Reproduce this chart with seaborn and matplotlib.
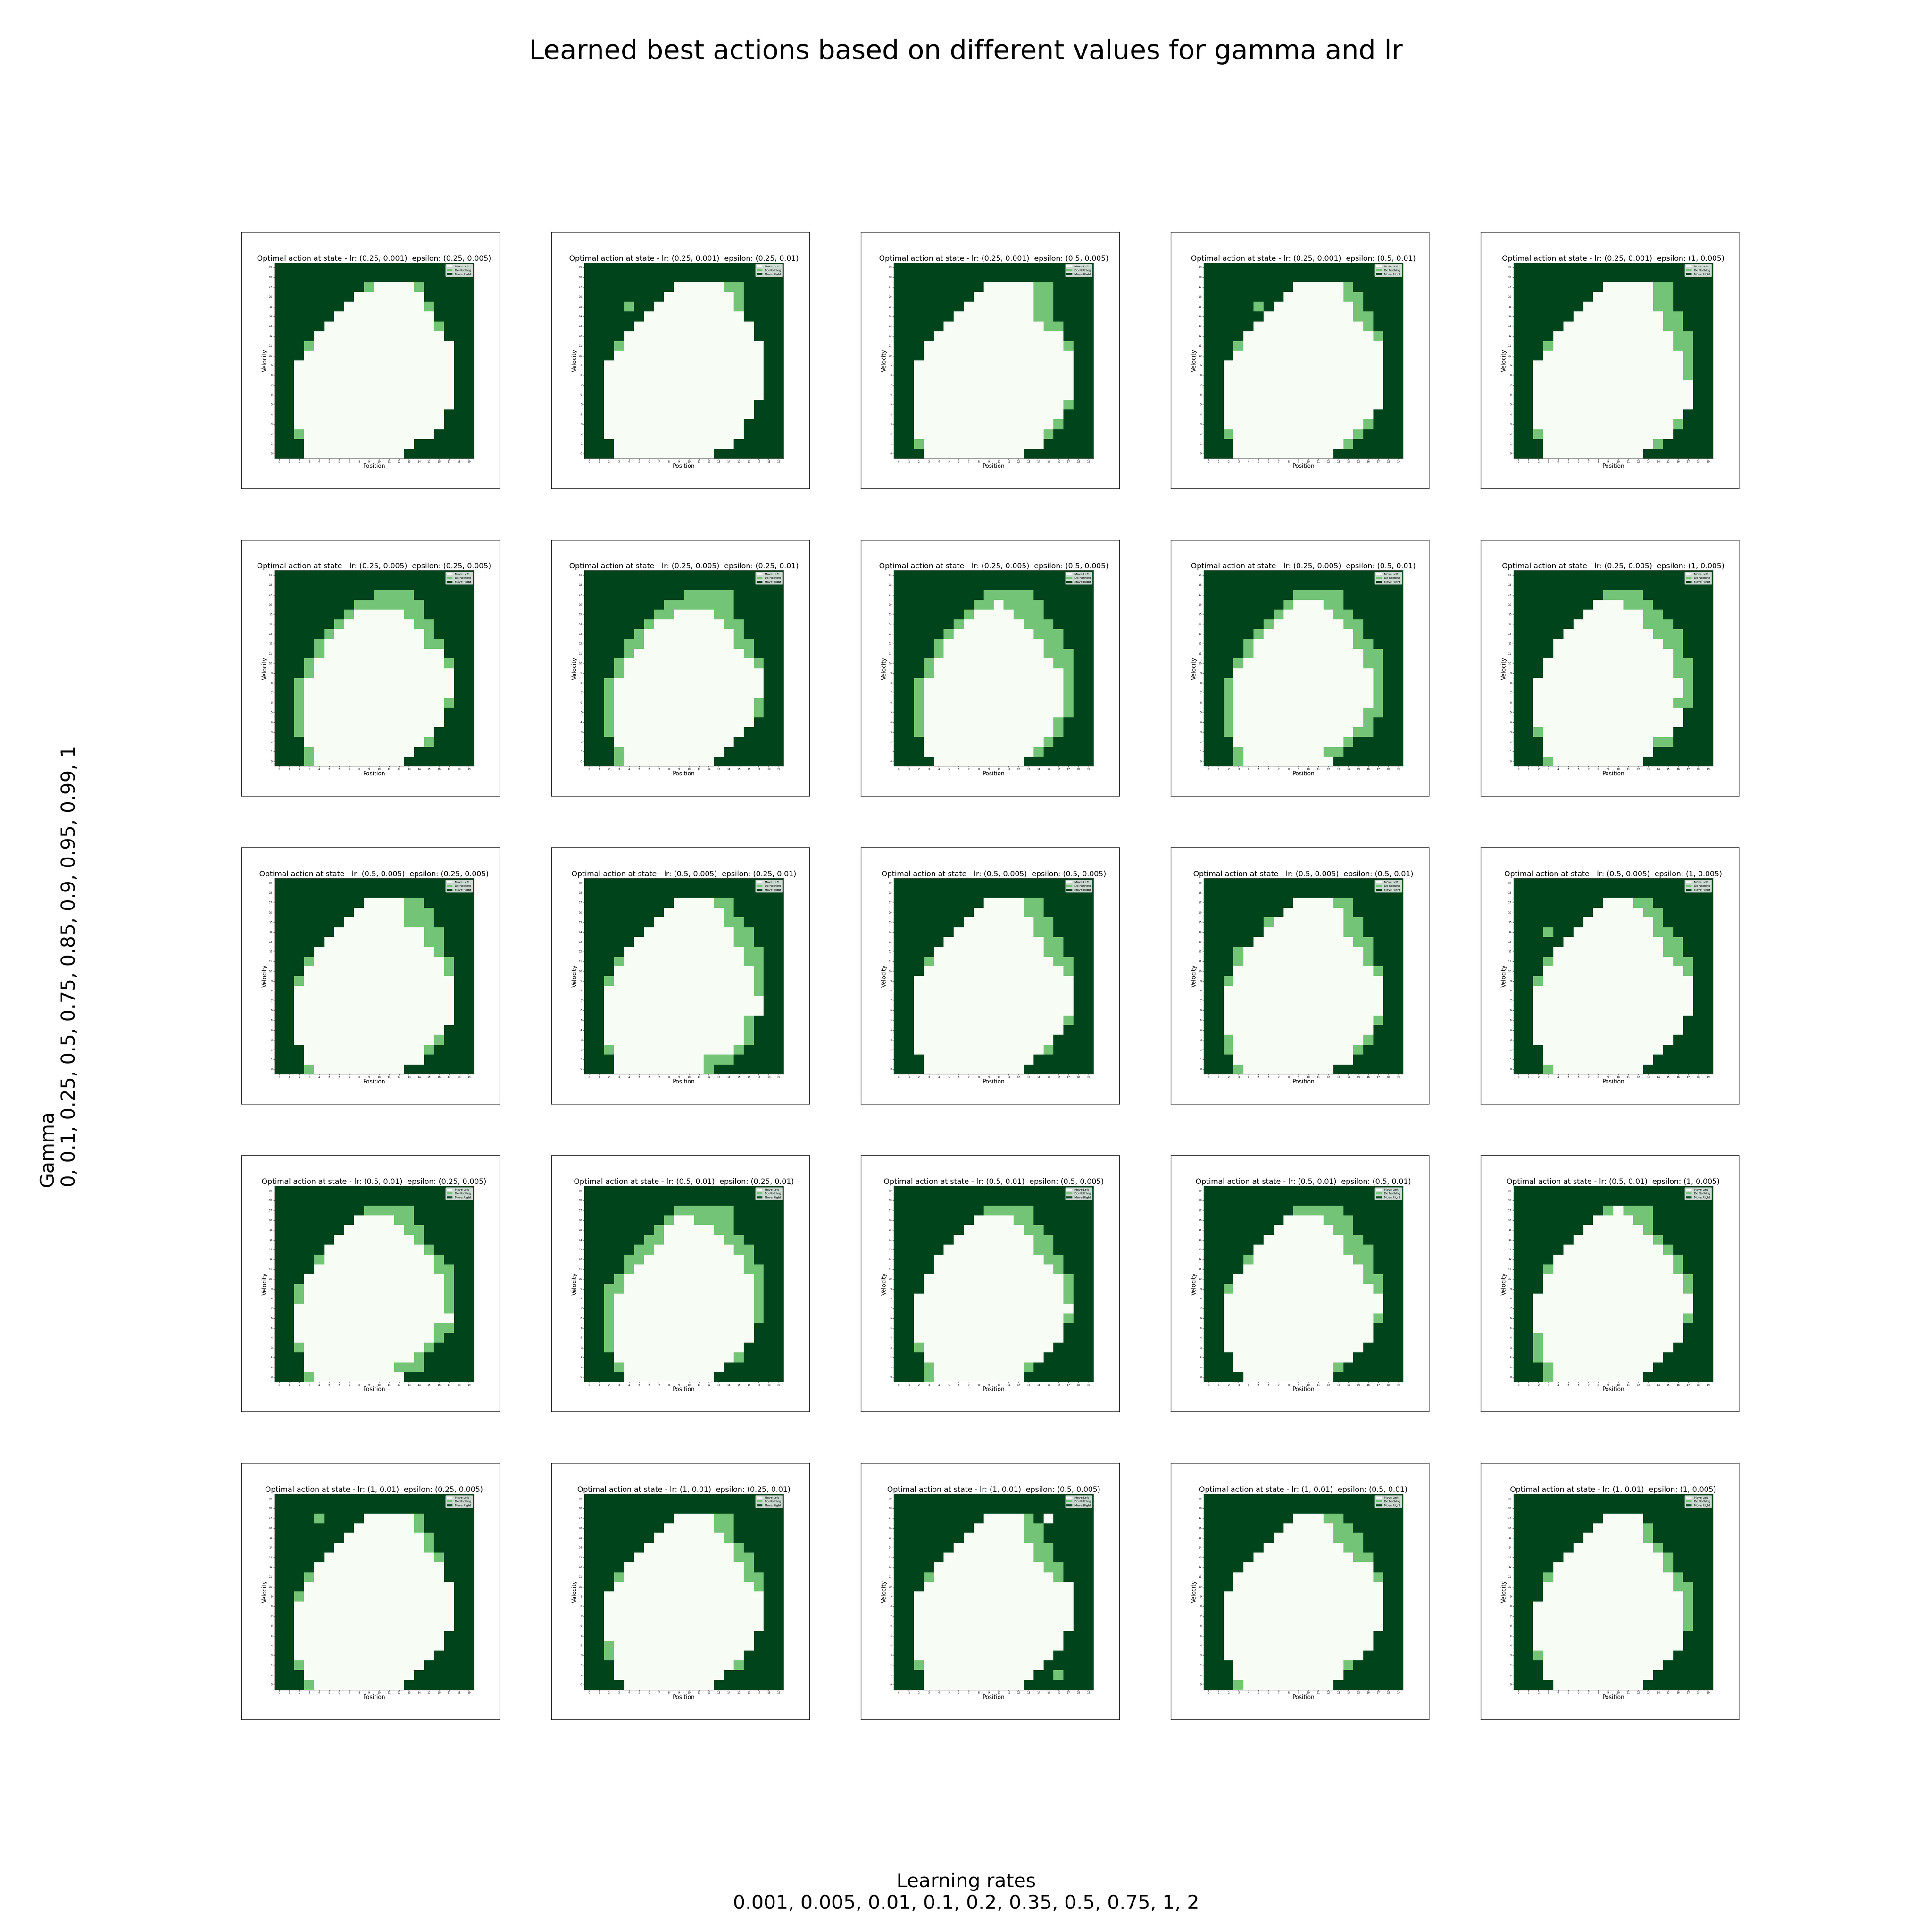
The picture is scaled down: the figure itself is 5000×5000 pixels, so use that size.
import numpy as np
import matplotlib
matplotlib.use("Agg")
import matplotlib.pyplot as plt
from matplotlib.patches import Patch
import seaborn as sns

# ---------------- data ----------------
learning_rate_pairs = ["(0.25, 0.001)", "(0.25, 0.005)", "(0.5, 0.005)", "(0.5, 0.01)", "(1, 0.01)"]
epsilon_pairs = ["(0.25, 0.005)", "(0.25, 0.01)", "(0.5, 0.005)", "(0.5, 0.01)", "(1, 0.005)"]
action_names = ["Move Left", "Do Nothing", "Move Right"]
position_ticks = list(range(20))
velocity_ticks = list(range(19, -1, -1))
gamma_values = "0, 0.1, 0.25, 0.5, 0.75, 0.85, 0.9, 0.95, 0.99, 1"
lr_values = "0.001, 0.005, 0.01, 0.1, 0.2, 0.35, 0.5, 0.75, 1, 2"

# '.' = Move Left (0), 'o' = Do Nothing (1), '#' = Move Right (2)
# each list: velocity rows 19 (top) -> 0 (bottom), positions 0..19
policy_r1c1 = [
    "####################", "####################", "#########o....o#####", "########.......#####",
    "#######........o####", "######..........####", "#####...........o###", "####.............###",
    "###o..............##", "###...............##", "##................##", "##................##",
    "##................##", "##................##", "##................##", "##...............###",
    "##...............###", "##o.............####", "###...........######", "###..........#######",
]
policy_r1c2 = [
    "####################", "####################", "#########.....oo####", "########.......o####",
    "####o##........o####", "######..........####", "#####............###", "####.............###",
    "###o..............##", "###...............##", "##................##", "##................##",
    "##................##", "##................##", "##...............###", "##...............###",
    "##..............####", "##..............####", "###............#####", "###..........#######",
]
policy_r1c3 = [
    "####################", "####################", "#########.....oo####", "########......oo####",
    "#######.......oo####", "######........oo####", "#####..........oo###", "####.............###",
    "###..............o##", "###...............##", "##................##", "##................##",
    "##................##", "##................##", "##...............o##", "##...............###",
    "##..............o###", "##.............o####", "##o............#####", "###..........#######",
]
policy_r1c4 = [
    "####################", "####################", "#########.....o#####", "########......oo####",
    "#####o#........o####", "######.........oo###", "#####...........o###", "####.............o##",
    "###o..............##", "###...............##", "##................##", "##................##",
    "##................##", "##................##", "##................##", "##...............###",
    "##..............o###", "##o............o####", "###...........o#####", "###..........#######",
]
policy_r1c5 = [
    "####################", "####################", "#########.....oo####", "########......oo####",
    "#######.......oo####", "######.........oo###", "#####..........oo###", "####............oo##",
    "###o............oo##", "###..............o##", "##...............o##", "##...............o##",
    "##................##", "##................##", "##................##", "##...............###",
    "##..............o###", "##o.............####", "###...........o#####", "###..........#######",
]
policy_r2c1 = [
    "####################", "####################", "##########oooo######", "########ooooooo#####",
    "#######o.....oo#####", "######o.......oo####", "#####o.........o####", "####o..........oo###",
    "####o............###", "###o.............o##", "###o..............##", "##o...............##",
    "##o...............##", "##o..............o##", "##o..............###", "##o..............###",
    "##o.............####", "###............o####", "###o..........######", "###o.........#######",
]
policy_r2c2 = [
    "####################", "####################", "##########ooooo#####", "########ooooooo#####",
    "#######oo....oo#####", "######o.......oo####", "#####o.........o####", "####oo.........oo###",
    "####o...........o###", "###o.............o##", "###o..............##", "##o...............##",
    "##o...............##", "##o..............o##", "##o..............o##", "##o..............###",
    "##o.............####", "###............#####", "###o..........######", "###o.........#######",
]
policy_r2c3 = [
    "####################", "####################", "#########ooooo######", "########oo.oooo#####",
    "#######o....ooo#####", "######o......ooo####", "#####o........ooo###", "####o..........oo###",
    "####o..........ooo##", "###o............oo##", "###o.............o##", "##o..............o##",
    "##o..............o##", "##o..............o##", "##o..............o##", "##o.............o###",
    "##o.............o###", "###............o####", "###...........o#####", "####.........#######",
]
policy_r2c4 = [
    "####################", "####################", "#########ooooo######", "########o...oo######",
    "#######o.....oo#####", "######o.......oo####", "#####o.........o####", "####o..........oo###",
    "####o...........oo##", "###o............oo##", "###..............o##", "##o..............o##",
    "##o..............o##", "##o..............o##", "##o.............oo##", "##o.............o###",
    "##o............oo###", "###...........o#####", "###o........oo######", "###o.........#######",
]
policy_r2c5 = [
    "####################", "####################", "#########oooo#######", "########...ooo######",
    "#######......oo#####", "######.......ooo####", "#####.........ooo###", "####...........oo###",
    "####............o###", "###.............oo##", "###.............oo##", "##...............o##",
    "##...............o##", "##..............oo##", "##...............###", "##...............###",
    "##o.............####", "###...........oo####", "###...........######", "###o.........#######",
]
policy_r3c1 = [
    "####################", "####################", "#########....oo#####", "########.....ooo####",
    "#######......ooo####", "######.........oo###", "#####..........oo###", "####............o###",
    "###o.............o##", "###..............o##", "##o...............##", "##................##",
    "##................##", "##................##", "##................##", "##...............###",
    "##..............o###", "###............o####", "###............#####", "###o.........#######",
]
policy_r3c2 = [
    "####################", "####################", "#########....oo#####", "########......o#####",
    "#######.......oo####", "######.........oo###", "#####..........oo###", "####............oo##",
    "###o............oo##", "###..............o##", "##o..............o##", "##...............o##",
    "##................##", "##................##", "##..............o###", "##..............o###",
    "##..............o###", "##o............o####", "###.........ooo#####", "###.........o#######",
]
policy_r3c3 = [
    "####################", "####################", "#########....oo#####", "########.....oo#####",
    "#######.......oo####", "######........oo####", "#####..........oo###", "####...........oo###",
    "###o............oo##", "###..............o##", "##................##", "##................##",
    "##................##", "##................##", "##...............o##", "##...............###",
    "##..............####", "##.............o####", "###...........######", "###..........#######",
]
policy_r3c4 = [
    "####################", "####################", "#########....oo#####", "########......o#####",
    "######o.......oo####", "######........oo####", "#####..........oo###", "###o............o###",
    "###o............o###", "###..............o##", "##o...............##", "##................##",
    "##................##", "##................##", "##...............o##", "##...............###",
    "##o.............o###", "##o............o####", "###............#####", "###o.........#######",
]
policy_r3c5 = [
    "####################", "####################", "#########...oo######", "########.....oo#####",
    "#######.......o#####", "###o##........oo####", "#####..........oo###", "####...........oo###",
    "###o............oo##", "###..............o##", "##o...............##", "##................##",
    "##................##", "##................##", "##...............###", "##...............###",
    "##..............####", "###............#####", "###...........######", "###o.........#######",
]
policy_r4c1 = [
    "####################", "####################", "#########ooooo######", "########....oo######",
    "#######......oo#####", "######........o#####", "#####..........o####", "####o...........o###",
    "####............oo##", "###..............o##", "##o..............o##", "##o..............o##",
    "##...............o##", "##................##", "##..............oo##", "##..............o###",
    "##o............o####", "###...........o#####", "###.........ooo#####", "###o.........#######",
]
policy_r4c2 = [
    "####################", "####################", "#########oooooo#####", "########o..oooo#####",
    "#######o.....oo#####", "######oo......oo####", "#####oo........oo###", "####oo..........o###",
    "####o...........oo##", "###o.............o##", "##oo.............o##", "##o..............o##",
    "##o..............o##", "##o..............o##", "##o..............###", "##o..............###",
    "##o.............####", "###............o####", "###o..........######", "####.........#######",
]
policy_r4c3 = [
    "####################", "####################", "#########ooooo######", "########....oo######",
    "#######......oo#####", "######........oo####", "#####.........oo####", "####...........oo###",
    "####............o###", "###..............o##", "###..............o##", "##...............o##",
    "##................##", "##...............o##", "##...............###", "##...............###",
    "##o.............####", "###............#####", "###o.........o######", "###o.........#######",
]
policy_r4c4 = [
    "####################", "####################", "#########ooooo######", "########....ooo#####",
    "#######......oo#####", "######........oo####", "#####.........ooo###", "####o..........oo###",
    "####............o###", "###.............oo##", "##o..............o##", "##................##",
    "##................##", "##...............o##", "##...............###", "##...............###",
    "##..............####", "###............#####", "###..........o######", "####.........#######",
]
policy_r4c5 = [
    "####################", "####################", "#########o.ooo######", "########....oo######",
    "#######......o######", "######........o#####", "#####..........o####", "####............o###",
    "###o............o###", "###..............o##", "###..............o##", "##................##",
    "##................##", "##...............o##", "##...............###", "##o..............###",
    "##o.............####", "##o............#####", "###o..........######", "###o.........#######",
]
policy_r5c1 = [
    "####################", "####################", "####o####.....o#####", "########......o#####",
    "#######........o####", "######.........o####", "#####...........o###", "####.............###",
    "###o.............###", "###...............##", "##o...............##", "##................##",
    "##................##", "##................##", "##...............###", "##...............###",
    "##..............####", "##o............#####", "###...........######", "###o.........#######",
]
policy_r5c2 = [
    "####################", "####################", "#########....oo#####", "########.....oo#####",
    "#######.......o#####", "######.........o####", "#####..........oo###", "####............o###",
    "###o............oo##", "###..............o##", "##................##", "##................##",
    "##................##", "##................##", "##...............###", "##o..............###",
    "##o.............####", "###............o####", "###...........######", "####.........#######",
]
policy_r5c3 = [
    "####################", "####################", "#########....o#.####", "########.....oo#####",
    "#######......oo#####", "######........oo####", "#####.........oo####", "####...........oo###",
    "###o............o###", "###...............##", "##................##", "##................##",
    "##................##", "##................##", "##...............###", "##...............###",
    "##..............####", "##o............#####", "###...........##o###", "###..........#######",
]
policy_r5c4 = [
    "####################", "####################", "#########...oo######", "########.....oo#####",
    "#######......ooo####", "######........oo####", "#####..........oo###", "####.............###",
    "###..............o##", "###...............##", "##................##", "##................##",
    "##................##", "##................##", "##...............###", "##...............###",
    "##..............####", "###...........o#####", "###...........######", "###o.........#######",
]
policy_r5c5 = [
    "####################", "####################", "#########....#######", "########.....o######",
    "#######......o######", "######........o#####", "#####..........o####", "####...........o####",
    "###o............o###", "###.............oo##", "###..............o##", "##...............o##",
    "##...............o##", "##...............o##", "##...............###", "##...............###",
    "##o.............####", "###............#####", "###...........######", "####.........#######",
]

policy_grid = [
    [policy_r1c1, policy_r1c2, policy_r1c3, policy_r1c4, policy_r1c5],
    [policy_r2c1, policy_r2c2, policy_r2c3, policy_r2c4, policy_r2c5],
    [policy_r3c1, policy_r3c2, policy_r3c3, policy_r3c4, policy_r3c5],
    [policy_r4c1, policy_r4c2, policy_r4c3, policy_r4c4, policy_r4c5],
    [policy_r5c1, policy_r5c2, policy_r5c3, policy_r5c4, policy_r5c5],
]

symbol_to_action = {".": 0, "o": 1, "#": 2}


def decode(rows, name):
    for i, r in enumerate(rows):
        if len(r) != 20:
            raise ValueError(f"{name}: row {i} has length {len(r)}")
    if len(rows) != 20:
        raise ValueError(f"{name}: {len(rows)} rows")
    return np.array([[symbol_to_action[ch] for ch in r] for r in rows])


# ---------------- figure ----------------
cmap = plt.get_cmap("Greens")
fig, axes = plt.subplots(5, 5, figsize=(50, 50), dpi=100)

for i in range(5):
    for j in range(5):
        outer = axes[i, j]
        outer.set_xticks([])
        outer.set_yticks([])
        for s in outer.spines.values():
            s.set_color("black")
            s.set_linewidth(1.0)

        inner = outer.inset_axes([0.127, 0.116, 0.773, 0.764])
        data = decode(policy_grid[i][j], f"r{i+1}c{j+1}")
        sns.heatmap(data, ax=inner, cmap=cmap, vmin=0, vmax=2, cbar=False,
                    xticklabels=position_ticks, yticklabels=velocity_ticks)
        for s in inner.spines.values():
            s.set_visible(True)
            s.set_color("#333333")
            s.set_linewidth(0.5)
        inner.tick_params(axis="both", labelsize=5, length=2.2, width=0.5, pad=1.5)
        plt.setp(inner.get_xticklabels(), rotation=0)
        plt.setp(inner.get_yticklabels(), rotation=0)
        inner.set_xlabel("Position", fontsize=10.6, labelpad=0.5)
        inner.set_ylabel("Velocity", fontsize=10.6, labelpad=2)
        inner.set_title(
            f"Optimal action at state - lr: {learning_rate_pairs[i]}  epsilon: {epsilon_pairs[j]}",
            fontsize=13.8, pad=3.6)
        handles = [Patch(facecolor=cmap(k / 2), label=action_names[k]) for k in range(3)]
        inner.legend(handles=handles, loc="upper right", fontsize=5.4)

fig.suptitle("Learned best actions based on different values for gamma and lr", fontsize=50)
fig.supxlabel("Learning rates\n" + lr_values, fontsize=36)
fig.supylabel("Gamma\n" + gamma_values, fontsize=36)

fig.savefig("out.png", dpi=100)
